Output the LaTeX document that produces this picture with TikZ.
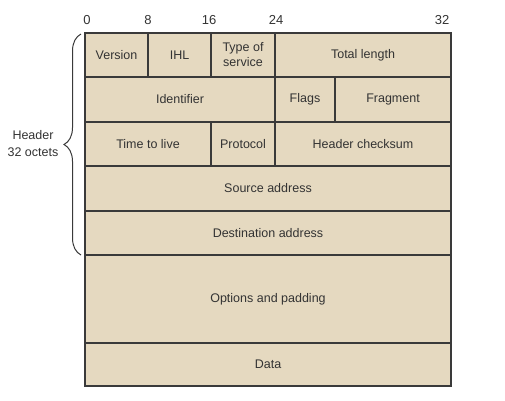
\documentclass[tikz,border=0pt]{standalone}
\usepackage{fontspec}
\setmainfont{Liberation Sans}
\usetikzlibrary{decorations.pathreplacing}
\definecolor{fieldfill}{HTML}{E5D9C0}
\definecolor{linecol}{HTML}{3A3A3A}
\definecolor{textcol}{HTML}{333333}
\begin{document}
\begin{tikzpicture}[x=1pt,y=-1pt,
  field/.style={draw=linecol, fill=fieldfill, line width=1.1pt, inner sep=0pt,
    text=textcol, font=\fontsize{12.5}{15}\selectfont, align=center},
  bitlabel/.style={text=textcol, font=\fontsize{13}{14}\selectfont, inner sep=0pt},
  sidelabel/.style={text=textcol, font=\fontsize{12.5}{17}\selectfont, align=center, inner sep=0pt}]
\useasboundingbox (0,0) rectangle (505,400);
% row 1
\node[field, minimum width=63pt, minimum height=44pt] (version) at (116.5,55) {Version};
\node[field, minimum width=63pt, minimum height=44pt] (ihl) at (179.5,55) {IHL};
\node[field, minimum width=64pt, minimum height=44pt] (tos) at (243,55) {Type of\\service};
\node[field, minimum width=176pt, minimum height=44pt] (total) at (363,55) {Total length};
% row 2
\node[field, minimum width=190pt, minimum height=45pt] (ident) at (180,99.5) {Identifier};
\node[field, minimum width=60pt, minimum height=45pt] (flags) at (305,99.5) {Flags};
\node[field, minimum width=116pt, minimum height=45pt] (frag) at (393,99.5) {Fragment};
% row 3
\node[field, minimum width=126pt, minimum height=44pt] (ttl) at (148,144) {Time to live};
\node[field, minimum width=64pt, minimum height=44pt] (proto) at (243,144) {Protocol};
\node[field, minimum width=176pt, minimum height=44pt] (csum) at (363,144) {Header checksum};
% row 4-7
\node[field, minimum width=366pt, minimum height=45pt] (src) at (268,188.5) {Source address};
\node[field, minimum width=366pt, minimum height=44pt] (dst) at (268,233) {Destination address};
\node[field, minimum width=366pt, minimum height=88pt] (opt) at (268,299) {Options and padding};
\node[field, minimum width=366pt, minimum height=43pt] (data) at (268,364.5) {Data};
% bit labels
\node[bitlabel] (b0) at (87,20) {0};
\node[bitlabel] (b8) at (148,20) {8};
\node[bitlabel] (b16) at (209,20) {16};
\node[bitlabel] (b24) at (276,20) {24};
\node[bitlabel] (b32) at (442,20) {32};
% brace
\coordinate (bracetop) at (81,34);
\coordinate (bracebot) at (81,255);
\draw[linecol, line width=1pt, decorate, decoration={brace, amplitude=17pt, aspect=0.5}] (bracebot) -- (bracetop);
\node[sidelabel] (hdr) at (33,144) {Header\\32 octets};
\end{tikzpicture}
\end{document}
